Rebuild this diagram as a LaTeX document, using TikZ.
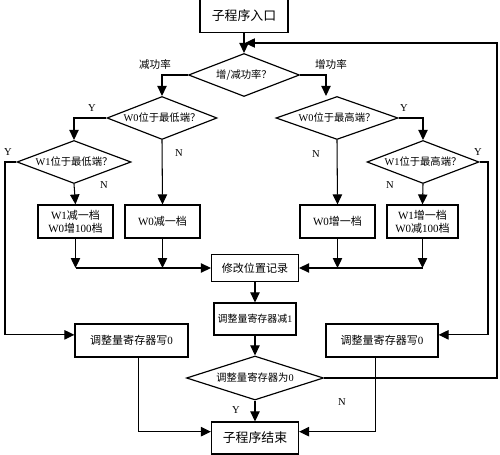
\documentclass[tikz,border=0pt]{standalone}
\usepackage{fontspec}
\setmainfont{Liberation Serif}
\newfontfamily\cjk{Noto Sans CJK SC}
\usetikzlibrary{shapes.geometric,arrows.meta,positioning,calc}
\newcommand{\zh}[1]{{\cjk #1}}
\tikzset{
     box/.style   = {draw, line width=1pt, align=center, inner sep=1pt,
                     font=\fontsize{9.4}{11}\selectfont},
     test/.style  = {draw, diamond, line width=1pt, aspect=2.6, inner sep=0pt,
                     font=\fontsize{8.8}{11}\selectfont},
     flow/.style  = {line width=0.9pt, -{Triangle[length=8.5pt,width=8pt]}},
     tag/.style   = {inner sep=0pt, font=\fontsize{9}{11}\selectfont},
    }

\begin{document}
\begin{tikzpicture}[x=0.03cm, y=-0.03cm, on grid]
        \useasboundingbox (0,0) rectangle (500,455);
        % main column
        \node [box, minimum width=2.64cm, minimum height=0.99cm, font=\fontsize{11}{13}\selectfont] (start) at (244,16) {\zh{子程序入口}};
        \node [test, minimum width=3.33cm, minimum height=1.29cm] (pick) [below=1.77cm of start] {\zh{增/减功率？}};
        \node [box, minimum width=2.61cm, minimum height=0.81cm] (record) at (255,268) {\zh{修改位置记录}};
        \node [box, minimum width=2.46cm, minimum height=0.96cm, font=\fontsize{8.5}{10}\selectfont] (minus) [below=1.53cm of record] {\zh{调整量寄存器减}1};
        \node [test, minimum width=4.11cm, minimum height=1.32cm, font=\fontsize{8.8}{10}\selectfont] (iszero) [below=1.77cm of minus] {\zh{调整量寄存器为}0};
        \node [box, minimum width=2.61cm, minimum height=0.96cm, font=\fontsize{11}{13}\selectfont] (finish) [below=1.8cm of iszero] {\zh{子程序结束}};
        % decrease side
        \node [test, minimum width=3.3cm, minimum height=1.29cm] (lowzero) at (162,118) {W0\zh{位于最低端？}};
        \node [test, minimum width=3.42cm, minimum height=1.29cm] (lowone) at (74,162) {W1\zh{位于最低端？}};
        \node [box, minimum width=2.25cm, minimum height=0.99cm] (wonedown) at (75.5,221.5) {W1\zh{减一档}\\W0\zh{增}100\zh{档}};
        \node [box, minimum width=2.25cm, minimum height=0.99cm] (wzerodown) at (162.5,221.5) {W0\zh{减一档}};
        \node [box, minimum width=3.39cm, minimum height=0.99cm] (clearleft) at (131.5,340.5) {\zh{调整量寄存器写}0};
        % increase side
        \node [test, minimum width=3.66cm, minimum height=1.29cm] (highzero) at (337,118) {W0\zh{位于最高端？}};
        \node [test, minimum width=3.36cm, minimum height=1.29cm] (highone) at (423,162) {W1\zh{位于最高端？}};
        \node [box, minimum width=2.25cm, minimum height=0.99cm] (wzeroup) at (337.5,221.5) {W0\zh{增一档}};
        \node [box, minimum width=2.13cm, minimum height=0.99cm] (woneup) at (422.5,221.5) {W1\zh{增一档}\\W0\zh{减}100\zh{档}};
        \node [box, minimum width=3.36cm, minimum height=0.99cm] (clearright) at (382,340.5) {\zh{调整量寄存器写}0};
        % labels
        \node [tag] (tagdown) at (155,64) {\zh{减功率}};
        \node [tag] (tagup) at (331,64) {\zh{增功率}};
        \node [tag] (lzy) at (92,108) {Y};
        \node [tag] (lzn) at (179,153) {N};
        \node [tag] (hzy) at (404,108) {Y};
        \node [tag] (hzn) at (316,154) {N};
        \node [tag] (loy) at (8,152) {Y};
        \node [tag] (lon) at (104,185) {N};
        \node [tag] (hoy) at (478,152) {Y};
        \node [tag] (hon) at (390,185) {N};
        \node [tag] (izy) at (236,410) {Y};
        \node [tag] (izn) at (342,402) {N};
        % rails
        \coordinate (railleft) at (5,162);
        \coordinate (railright) at (488,162);
        \coordinate (rim) at (497,43);
        \coordinate (entry) at (245,43);
        \draw [flow] (start) -- (pick);
        \draw [flow] (pick.west) -| (lowzero.north);
        \draw [flow] (pick.east) -| ([xshift=-0.33cm]highzero.north);
        \draw [flow] (lowzero.west) -| (lowone.north);
        \draw [flow] (lowzero.south) -- (wzerodown.north);
        \draw [flow] (lowone.south) -- (wonedown.north);
        \draw [flow] (highzero.east) -| (highone.north);
        \draw [flow] (highzero.south) -- (wzeroup.north);
        \draw [flow] (highone.south) -- (woneup.north);
        \draw [flow] (wonedown.south) -- (wonedown.south |- record.west);
        \draw [flow] (wzerodown.south) -- (wzerodown.south |- record.west);
        \draw [flow] (wonedown.south |- record.west) -- (record.west);
        \draw [flow] (woneup.south) -- (woneup.south |- record.east);
        \draw [flow] (wzeroup.south) -- (wzeroup.south |- record.east);
        \draw [flow] (woneup.south |- record.east) -- (record.east);
        \draw [flow] (record) -- (minus);
        \draw [flow] (minus) -- (iszero);
        \draw [flow] (iszero) -- (finish);
        \draw [flow] (lowone.west) -- (railleft) |- ([yshift=0.17cm]clearleft.west);
        \draw [flow] (highone.east) -- (railright) |- ([yshift=0.17cm]clearright.east);
        \draw [flow] ([xshift=0.2cm]clearleft.south) |- ([yshift=0.19cm]finish.west);
        \draw [flow] ([xshift=-0.2cm]clearright.south) |- ([yshift=0.19cm]finish.east);
        \draw [flow] (iszero.east) -| (rim) -- (entry);
    \end{tikzpicture}
\end{document}
